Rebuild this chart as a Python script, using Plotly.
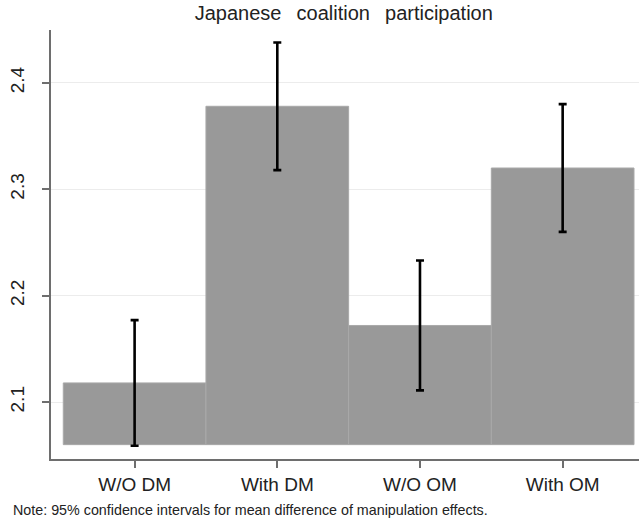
import plotly.graph_objects as go

# Group means and 95% CI half-widths
categories = ["W/O DM", "With DM", "W/O OM", "With OM"]
means = [2.118, 2.378, 2.172, 2.320]
ci_half = [0.059, 0.060, 0.061, 0.060]
bar_base = 2.06

y_ticks = [2.1, 2.2, 2.3, 2.4]
y_tick_labels = ["2.1", "2.2", "2.3", "2.4"]

FONT = "Liberation Sans, Arial, sans-serif"

fig = go.Figure(
    go.Bar(
        x=list(range(len(categories))),
        y=[m - bar_base for m in means],
        base=bar_base,
        width=1.0,
        marker=dict(color="#999999", line=dict(color="#a9a9a9", width=1)),
        error_y=dict(type="data", array=ci_half, visible=True,
                     color="#000000", thickness=2.6, width=4),
        hoverinfo="skip",
    )
)

fig.update_layout(
    width=639,
    height=522,
    margin=dict(l=51, r=0, t=30, b=63),
    paper_bgcolor="white",
    plot_bgcolor="white",
    showlegend=False,
    font=dict(family=FONT, color="#222222"),
    title=dict(text="Japanese  \u2009coalition  \u2009participation", x=0.538, xanchor="center",
               y=0.976, yanchor="middle", font=dict(size=20, color="#222222")),
    xaxis=dict(
        range=[-0.586, 3.535],
        tickmode="array",
        tickvals=list(range(len(categories))),
        ticktext=categories,
        tickfont=dict(size=19, color="#222222"),
        showline=True, linecolor="#6e6e6e", linewidth=2,
        ticks="outside", ticklen=7, tickwidth=1.5, tickcolor="#6e6e6e",
        showgrid=False, zeroline=False,
    ),
    yaxis=dict(
        range=[2.0465, 2.4497],
        tickmode="array",
        tickvals=y_ticks,
        ticktext=y_tick_labels,
        tickangle=-90,
        tickfont=dict(size=19, color="#222222"),
        ticklabelstandoff=10,
        showline=True, linecolor="#6e6e6e", linewidth=2,
        ticks="outside", ticklen=7, tickwidth=1.5, tickcolor="#6e6e6e",
        showgrid=True, gridcolor="#ececec", gridwidth=1,
        zeroline=False,
    ),
    annotations=[
        dict(text="Note: 95% confidence intervals for mean difference of manipulation effects.",
             xref="paper", yref="paper", x=-0.068, y=-0.118, xanchor="left", yanchor="middle",
             showarrow=False, font=dict(size=14.3, color="#222222")),
    ],
)

fig.write_html("out.html")
